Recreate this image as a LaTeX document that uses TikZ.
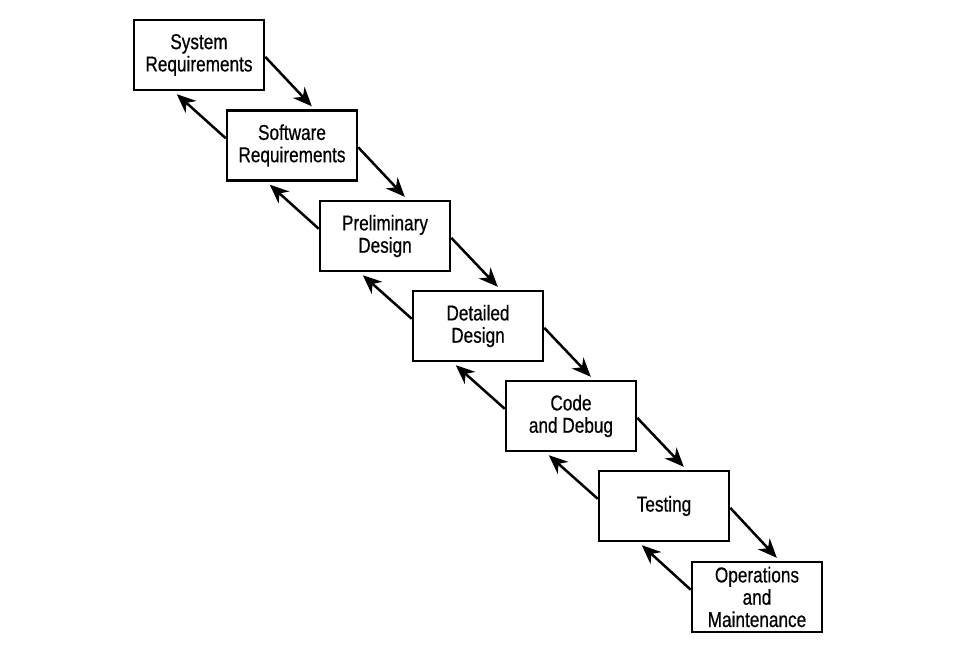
\documentclass[tikz,border=0pt]{standalone}
\usepackage{fontspec}
\setmainfont{Liberation Sans}[FakeStretch=0.8,FakeBold=0.6]
\usetikzlibrary{arrows.meta,calc}
\begin{document}
\begin{tikzpicture}[x=1pt,y=-1pt,
  stage/.style={draw,line width=2.4pt,minimum width=130pt,minimum height=70pt,inner sep=0pt,
    align=center,font=\fontsize{21.5}{22.3}\selectfont},
  arr/.style={line width=2.5pt,-{Stealth[length=19pt,width=16pt,inset=6pt]}}]
\useasboundingbox (0,0) rectangle (954,663);
\node[stage] (s1) at (199,55) {System\\Requirements};
\node[stage] (s2) at (292,145.5) {Software\\Requirements};
\node[stage] (s3) at (385,236) {Preliminary\\Design};
\node[stage] (s4) at (478,326) {Detailed\\Design};
\node[stage] (s5) at (571,416) {Code\\and Debug};
\node[stage] (s6) at (664,506) {Testing};
\node[stage] (s7) at (757,597) {Operations\\and\\Maintenance};
\foreach \a/\b in {s1/s2,s2/s3,s3/s4,s4/s5,s5/s6,s6/s7}{
  \draw[arr] ($(\a.north east)+(0,38)$) -- ($(\b.north west)+(86,-3)$);
  \draw[arr] ($(\b.north west)+(0,29)$) -- ($(\a.south west)+(44,3)$);
}
\end{tikzpicture}
\end{document}
